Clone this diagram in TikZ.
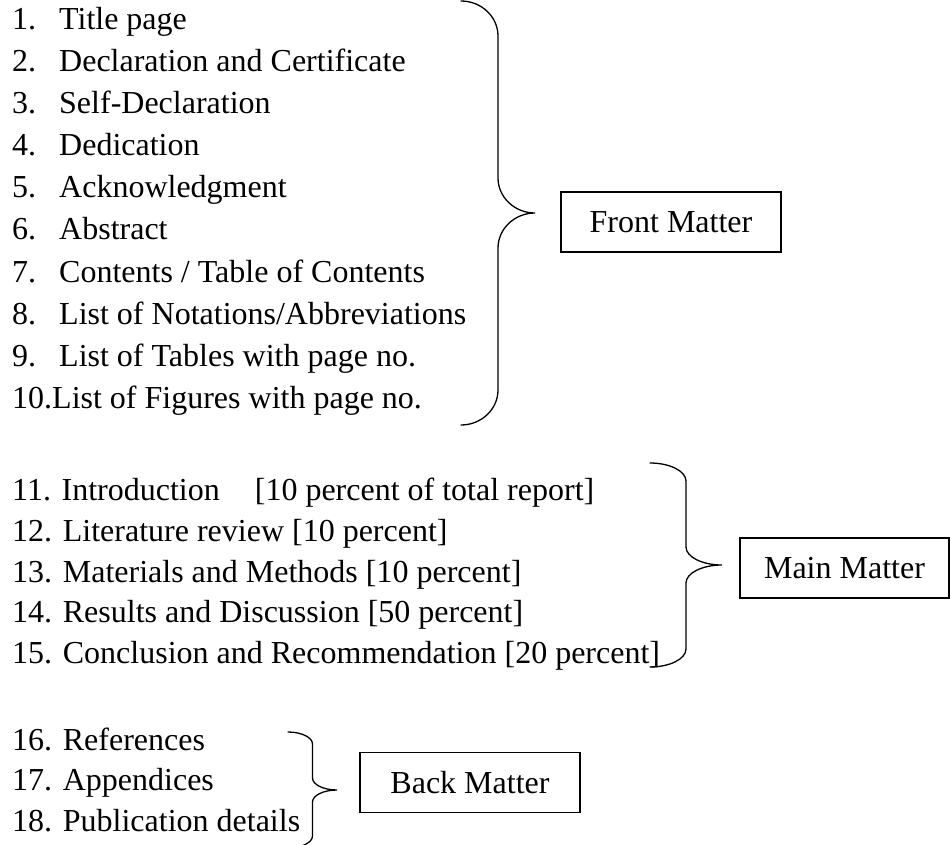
\documentclass[tikz,border=0pt]{standalone}
\usepackage{fontspec}
\setmainfont{Liberation Serif}

\tikzset{
  item/.style={anchor=base west,inner sep=0pt,font=\fontsize{32}{38}\selectfont},
  matterbox/.style={draw,line width=1.2pt,inner sep=0pt,minimum width=220pt,minimum height=60pt,font=\fontsize{32}{38}\selectfont},
  curly/.style={line width=1.3pt,line cap=round},
}
% #1 x, #2 top, #3 bottom, #4 half width, #5 curl
\newcommand{\curlybrace}[5]{%
  \draw[curly] (#1,#2) .. controls ({#1+0.55*#4},#2) and ({#1+#4},{#2+0.45*#5}) .. ({#1+#4},{#2+#5})
    -- ({#1+#4},{(#2+#3)/2-#5}) .. controls ({#1+#4},{(#2+#3)/2-0.45*#5}) and ({#1+1.45*#4},{(#2+#3)/2}) .. ({#1+2*#4},{(#2+#3)/2})
    .. controls ({#1+1.45*#4},{(#2+#3)/2}) and ({#1+#4},{(#2+#3)/2+0.45*#5}) .. ({#1+#4},{(#2+#3)/2+#5})
    -- ({#1+#4},{#3-#5}) .. controls ({#1+#4},{#3-0.45*#5}) and ({#1+0.55*#4},#3) .. (#1,#3);}

\begin{document}
\begin{tikzpicture}[x=1pt,y=-1pt]
\useasboundingbox (0,0) rectangle (950,845);
% front matter
\node[item] (n1) at (12,30) {1.};
\node[item] (fm1) at (59,30) {Title page};
\node[item] (n2) at (12,72) {2.};
\node[item] (fm2) at (59,72) {Declaration and Certificate};
\node[item] (n3) at (12,114) {3.};
\node[item] (fm3) at (59,114) {Self-Declaration};
\node[item] (n4) at (12,156) {4.};
\node[item] (fm4) at (59,156) {Dedication};
\node[item] (n5) at (12,198) {5.};
\node[item] (fm5) at (59,198) {Acknowledgment};
\node[item] (n6) at (12,240) {6.};
\node[item] (fm6) at (59,240) {Abstract};
\node[item] (n7) at (12,282) {7.};
\node[item] (fm7) at (59,282) {Contents / Table of Contents};
\node[item] (n8) at (12,324) {8.};
\node[item] (fm8) at (59,324) {List of Notations/Abbreviations};
\node[item] (n9) at (12,366) {9.};
\node[item] (fm9) at (59,366) {List of Tables with page no.};
\node[item] (n10) at (12,408) {10.};
\node[item] (fm10) at (52,408) {List of Figures with page no.};
\curlybrace{461}{1}{425}{37}{35}
\node[matterbox] (front) at (671,222) {Front Matter};
% main matter
\node[item] (mm11) at (12,500) {11. Introduction\hspace{35pt}[10 percent of total report]};
\node[item] (mm12) at (12,541) {12. Literature review [10 percent]};
\node[item] (mm13) at (12,582) {13. Materials and Methods [10 percent]};
\node[item] (mm14) at (12,622) {14. Results and Discussion [50 percent]};
\node[item] (mm15) at (12,663) {15. Conclusion and Recommendation [20 percent]};
\curlybrace{650}{463}{667}{36}{18}
\node[matterbox,minimum width=209pt] (main) at (844.5,568) {Main Matter};
% back matter
\node[item] (bm16) at (12,750) {16. References};
\node[item] (bm17) at (12,790) {17. Appendices};
\node[item] (bm18) at (12,831) {18. Publication details};
\curlybrace{288}{732}{848}{24.5}{12}
\node[matterbox] (back) at (470,782.5) {Back Matter};
\end{tikzpicture}
\end{document}
